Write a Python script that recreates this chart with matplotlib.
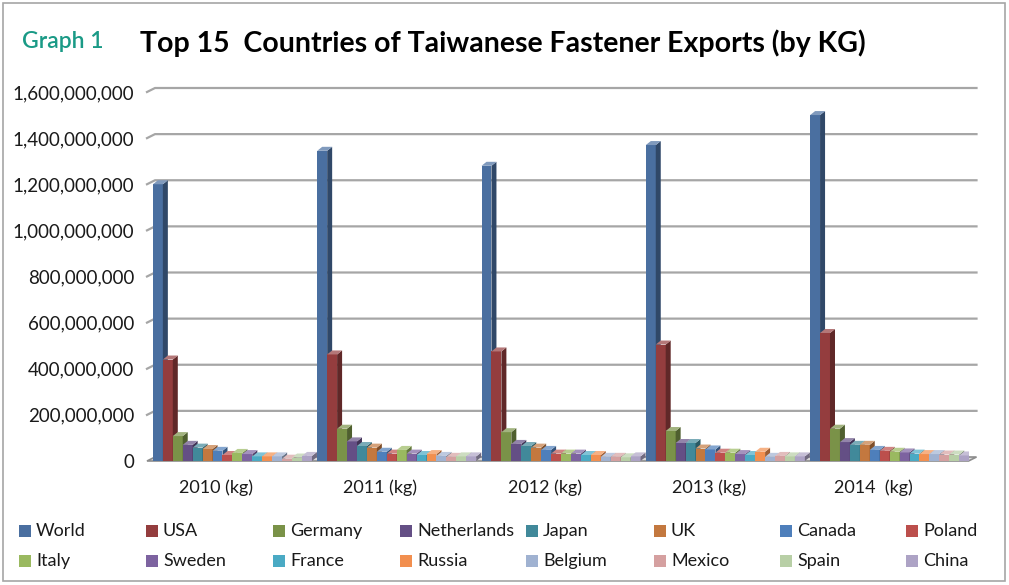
import numpy as np
import matplotlib
matplotlib.use('Agg')
import matplotlib.pyplot as plt
import matplotlib.colors as mcolors
from matplotlib.patches import Polygon, Rectangle

plt.rcParams['font.family'] = ['Lato', 'DejaVu Sans']

# data (kg)
years = ['2010 (kg)', '2011 (kg)', '2012 (kg)', '2013 (kg)', '2014  (kg)']
countries = ['World', 'USA', 'Germany', 'Netherlands', 'Japan', 'UK', 'Canada', 'Poland',
             'Italy', 'Sweden', 'France', 'Russia', 'Belgium', 'Mexico', 'Spain', 'China']

M = 1e6
world       = [1200 * M, 1345 * M, 1280 * M, 1370 * M, 1500 * M]
usa         = [440 * M, 462 * M, 475 * M, 505 * M, 555 * M]
germany     = [108 * M, 140 * M, 125 * M, 130 * M, 140 * M]
netherlands = [70 * M, 85 * M, 74 * M, 78 * M, 82 * M]
japan       = [58 * M, 65 * M, 65 * M, 78 * M, 70 * M]
uk          = [52 * M, 58 * M, 58 * M, 54 * M, 70 * M]
canada      = [44 * M, 40 * M, 48 * M, 50 * M, 48 * M]
poland      = [26 * M, 32 * M, 32 * M, 36 * M, 44 * M]
italy       = [35 * M, 48 * M, 32 * M, 36 * M, 40 * M]
sweden      = [30 * M, 32 * M, 32 * M, 30 * M, 37 * M]
france      = [20 * M, 26 * M, 26 * M, 26 * M, 32 * M]
russia      = [20 * M, 30 * M, 26 * M, 40 * M, 30 * M]
belgium     = [20 * M, 22 * M, 18 * M, 18 * M, 30 * M]
mexico      = [10 * M, 18 * M, 18 * M, 22 * M, 28 * M]
spain       = [15 * M, 20 * M, 16 * M, 20 * M, 28 * M]
china       = [22 * M, 20 * M, 20 * M, 20 * M, 24 * M]

series = [world, usa, germany, netherlands, japan, uk, canada, poland,
          italy, sweden, france, russia, belgium, mexico, spain, china]

colors = ['#4A6FA0', '#943D3E', '#7A9248', '#644F85', '#41899A', '#C3783F', '#4E7FBB', '#BC4F4C',
          '#9AB960', '#7D63A0', '#4AAAC4', '#F28F4F', '#A0B2D1', '#D5A0A0', '#B8CFA6', '#ADA3C5']

yticks = np.arange(0, 1.6e9 + 1, 2e8)

W, H = 1009, 585
fig = plt.figure(figsize=(W / 100, H / 100), dpi=100)
fig.patches.append(Rectangle((3 / W, 4 / H), 1002 / W, 578 / H, transform=fig.transFigure,
                             fill=False, edgecolor='#a6a6a6', lw=1.2))

ax_l, ax_r, ax_b, ax_t = 147, 968.5, 461, 92
ax = fig.add_axes([ax_l / W, 1 - ax_b / H, (ax_r - ax_l) / W, (ax_b - ax_t) / H])
ax.set_xlim(-0.52, 4.48)
ax.set_ylim(0, 1.6e9)
for s in ax.spines.values():
    s.set_visible(False)
ax.patch.set_alpha(0)

# pixel -> data units
ux = 5.0 / (ax_r - ax_l)
uy = 1.6e9 / (ax_b - ax_t)

# back wall gridlines with depth stub
wall_dx, wall_dy = 8 * ux, 4 * uy
x0, x1 = ax.get_xlim()
for t in yticks[1:]:
    ax.plot([x0, x0 + wall_dx, x1 + wall_dx], [t, t + wall_dy, t + wall_dy],
            color='#a6a6a6', lw=1.6, zorder=1, clip_on=False)

# floor
ax.add_patch(Polygon([[x0, 0], [x1, 0], [x1 + wall_dx, wall_dy], [x0 + wall_dx, wall_dy]],
                     closed=True, facecolor='#d9d9d9', edgecolor='#8c8c8c', lw=1.2,
                     zorder=1.5, clip_on=False))

# bars with a little 3D depth
n = len(series)
w = 0.0605
xg = np.arange(len(years))
bdx, bdy = 5 * ux, 4 * uy
for k, (vals, c) in enumerate(zip(series, colors)):
    xs = xg + (k - (n - 1) / 2) * w
    z = 3 + k * 0.1
    ax.bar(xs, vals, w, color=c, edgecolor='none', zorder=z)
    side = mcolors.to_rgb(c)
    dark = tuple(v * 0.65 for v in side)
    light = tuple(v + (1 - v) * 0.3 for v in side)
    for x, v in zip(xs, vals):
        xl, xr = x - w / 2, x + w / 2
        ax.add_patch(Polygon([[xr, 0], [xr, v], [xr + bdx, v + bdy], [xr + bdx, bdy]],
                             closed=True, facecolor=dark, edgecolor='none', zorder=z + 0.05))
        ax.add_patch(Polygon([[xl, v], [xr, v], [xr + bdx, v + bdy], [xl + bdx, v + bdy]],
                             closed=True, facecolor=light, edgecolor='none', zorder=z + 0.05))

ax.set_yticks(yticks)
ax.set_yticklabels([f'{int(t):,}' for t in yticks], fontsize=13.5, color='#1a1a1a')
ax.set_xticks(xg - 0.1)
ax.set_xticklabels(years, fontsize=13, color='#1a1a1a')
ax.tick_params(axis='both', length=0)
ax.tick_params(axis='y', pad=9)
ax.tick_params(axis='x', pad=13)

# title
fig.text(22 / W, 1 - 42 / H, 'Graph 1', fontsize=16.5, fontweight='semibold', color='#1a9a86',
         va='center', ha='left')
fig.text(140 / W, 1 - 43 / H, 'Top 15  Countries of Taiwanese Fastener Exports (by KG)',
         fontsize=20.5, fontweight='bold', color='black', va='center', ha='left')

# legend, two rows of eight
col_x = [19, 146, 273, 400, 526, 654, 780, 906]
row_y = [531, 561]
for i, (name, c) in enumerate(zip(countries, colors)):
    cx, ry = col_x[i % 8], row_y[i // 8]
    fig.patches.append(Rectangle((cx / W, 1 - (ry + 6) / H), 12 / W, 12 / H,
                                 transform=fig.transFigure, facecolor=c, edgecolor='none'))
    fig.text((cx + 17) / W, 1 - ry / H, name, fontsize=13, color='#1a1a1a',
             va='center', ha='left')

fig.savefig('out.png', dpi=100)
